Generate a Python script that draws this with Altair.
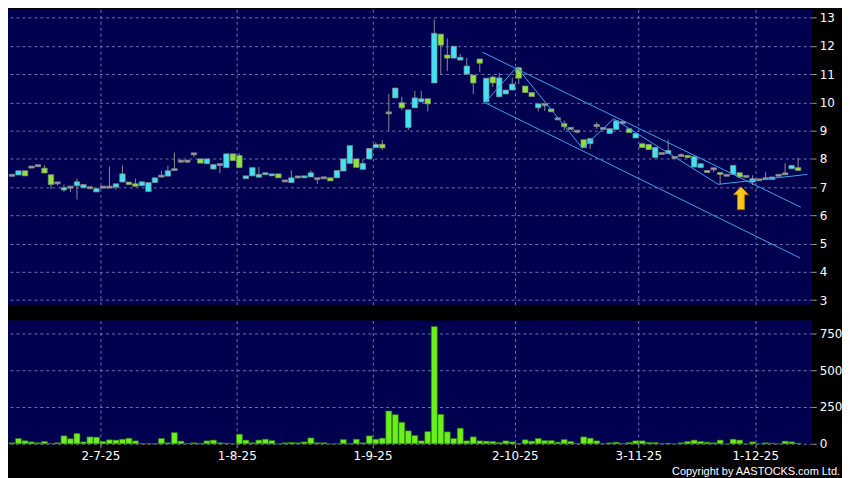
import altair as alt
import pandas as pd

# ---------------- data ----------------
opens = [7.42, 7.43, 7.58, 7.71, 7.76, 7.67, 7.44, 7.15, 6.90, 7.00,
         7.05, 6.98, 6.98, 6.83, 7.00, 7.00, 7.00, 7.18, 7.18, 7.12,
         7.05, 6.84, 7.16, 7.39, 7.39, 7.62, 7.92, 7.92, 8.18, 8.00,
         7.83, 7.64, 7.80, 7.69, 8.18, 8.12, 7.30, 7.40, 7.35, 7.44,
         7.40, 7.47, 7.22, 7.16, 7.36, 7.33, 7.36, 7.30, 7.33, 7.33,
         7.33, 7.57, 7.84, 8.00, 7.63, 8.00, 8.40, 8.52, 9.63, 10.16,
         9.99, 9.11, 9.81, 10.02, 10.13, 10.69, 12.42, 11.68, 11.57, 11.50,
         11.00, 10.97, 11.54, 10.02, 10.90, 10.20, 10.30, 10.44, 11.23, 10.58,
         10.35, 9.81, 9.92, 9.77, 9.42, 9.25, 9.08, 8.98, 8.68, 8.54,
         9.18, 9.08, 8.90, 9.04, 9.29, 9.07, 8.74, 8.54, 8.51, 8.05,
         8.19, 8.19, 8.05, 8.12, 8.12, 7.71, 7.69, 7.59, 7.65, 7.52,
         7.42, 7.45, 7.51, 7.38, 7.18, 7.26, 7.30, 7.27, 7.42, 7.47,
         7.65, 7.69]
highs = [7.44, 7.58, 7.58, 7.72, 7.77, 7.77, 7.44, 7.18, 7.09, 7.02,
         7.30, 7.09, 6.99, 6.95, 7.01, 7.73, 7.12, 7.77, 7.18, 7.30,
         7.19, 7.16, 7.33, 7.59, 7.76, 8.23, 7.97, 7.97, 8.20, 8.00,
         8.00, 7.80, 7.81, 8.18, 8.18, 8.20, 7.40, 7.69, 7.71, 7.51,
         7.47, 7.47, 7.23, 7.59, 7.37, 7.40, 7.59, 7.31, 7.34, 7.33,
         7.59, 8.00, 8.47, 8.00, 7.97, 8.37, 8.59, 8.67, 10.30, 10.51,
         10.20, 9.74, 10.41, 10.41, 10.13, 12.94, 12.42, 12.27, 11.99, 11.72,
         11.58, 10.97, 11.54, 10.86, 10.95, 11.05, 10.44, 10.88, 11.27, 10.58,
         10.35, 9.95, 9.93, 9.77, 9.43, 9.36, 9.09, 8.99, 8.68, 8.72,
         9.30, 9.09, 9.07, 9.35, 9.30, 9.07, 8.90, 8.54, 8.51, 8.41,
         8.20, 8.68, 8.06, 8.20, 8.12, 8.08, 7.83, 7.59, 7.69, 7.52,
         7.43, 7.77, 7.51, 7.39, 7.42, 7.27, 7.53, 7.36, 7.43, 7.85,
         7.77, 8.04]
lows = [7.36, 7.43, 7.40, 7.70, 7.75, 7.50, 6.93, 7.06, 6.83, 6.82,
        6.56, 6.98, 6.97, 6.83, 6.99, 6.99, 6.91, 7.18, 7.09, 7.03,
        7.05, 6.84, 7.16, 7.38, 7.39, 7.61, 7.86, 7.86, 8.06, 7.85,
        7.83, 7.64, 7.50, 7.69, 7.94, 7.69, 7.30, 7.40, 7.35, 7.44,
        7.40, 7.33, 7.21, 7.16, 7.35, 7.33, 7.36, 7.12, 7.32, 7.22,
        7.33, 7.57, 7.84, 7.70, 7.63, 8.00, 8.40, 8.32, 9.00, 10.16,
        9.73, 9.02, 9.81, 10.02, 9.68, 10.69, 11.00, 11.11, 11.57, 11.50,
        11.00, 10.30, 11.09, 10.02, 10.55, 10.20, 10.30, 10.44, 10.65, 10.35,
        10.21, 9.68, 9.70, 9.67, 9.41, 9.01, 9.07, 8.90, 8.40, 8.36,
        9.06, 9.07, 8.90, 9.04, 9.28, 8.93, 8.74, 8.40, 8.33, 8.05,
        8.18, 8.19, 8.04, 8.11, 8.05, 7.71, 7.69, 7.52, 7.53, 7.10,
        7.41, 7.45, 7.36, 7.37, 7.07, 7.25, 7.29, 7.27, 7.41, 7.46,
        7.65, 7.59]
closes = [7.42, 7.58, 7.40, 7.71, 7.76, 7.50, 7.09, 7.15, 6.98, 7.00,
          7.19, 7.09, 6.98, 6.95, 7.00, 7.00, 7.12, 7.47, 7.09, 7.03,
          7.19, 7.16, 7.33, 7.39, 7.58, 7.62, 7.92, 7.92, 8.18, 7.85,
          8.00, 7.80, 7.80, 8.18, 7.94, 7.69, 7.40, 7.69, 7.45, 7.51,
          7.47, 7.33, 7.22, 7.33, 7.36, 7.40, 7.51, 7.30, 7.33, 7.22,
          7.59, 8.00, 8.47, 7.70, 7.84, 8.37, 8.51, 8.39, 9.63, 10.51,
          9.81, 9.74, 10.16, 10.13, 9.95, 12.45, 12.03, 11.57, 11.99, 11.60,
          11.29, 10.69, 11.39, 10.86, 10.69, 10.87, 10.44, 10.65, 10.86, 10.35,
          10.21, 9.95, 9.92, 9.67, 9.42, 9.14, 9.08, 8.98, 8.40, 8.72,
          9.18, 9.08, 9.07, 9.35, 9.29, 8.93, 8.90, 8.40, 8.33, 8.41,
          8.19, 8.30, 8.05, 8.12, 8.05, 8.08, 7.83, 7.52, 7.65, 7.45,
          7.42, 7.77, 7.36, 7.38, 7.30, 7.26, 7.30, 7.36, 7.42, 7.47,
          7.77, 7.59]
volumes = [7, 36, 20, 13, 7, 16, 2, 7, 54, 34, 70, 13, 47, 45, 16, 27, 25, 31, 38, 20,
           2, 2, 2, 36, 7, 76, 18, 2, 7, 4, 20, 25,
           7, 4, 0, 65, 25, 7, 25, 31, 22, 0, 7, 9, 7, 13, 40, 7, 7, 0,
           0, 29, 2, 31, 7, 54, 31, 38, 223, 198, 146, 88, 56, 20,
           83, 797, 200, 81, 36, 106, 20, 47, 20, 18, 16, 9, 20, 13, 2, 27,
           18, 36, 22, 22, 11, 29, 16, 2, 47, 38, 20, 2, 7, 11, 2,
           9, 20, 20, 9, 9, 2, 4, 0, 7, 16, 25, 16, 11, 7, 25, 0, 31, 25,
           0, 13, 0, 7, 4, 0, 18, 13, 4]

tick_pos = [13.6, 34.6, 55.5, 77.4, 96.4, 114.4]
tick_labels = ["2-7-25", "1-8-25", "1-9-25", "2-10-25", "3-11-25", "1-12-25"]
price_ticks = [3, 4, 5, 6, 7, 8, 9, 10, 11, 12, 13]
vol_ticks = [0, 250, 500, 750]

# trend lines (channel, zigzag, base)
line_id = ["upper", "upper", "lower", "lower",
           "zig", "zig", "zig", "zig", "zig", "base", "base"]
line_seq = [0, 1, 0, 1, 0, 1, 2, 3, 4, 0, 1]
line_x = [72.4, 121.4, 72.7, 121.3, 72.8, 77.7, 87.8, 92.6, 108.7, 108.7, 122.4]
line_y = [11.78, 6.29, 10.0, 4.49, 10.0, 11.25, 8.38, 9.42, 7.10, 7.10, 7.45]

arrow_x = [112.2]
arrow_y = [6.61]

# ---------------- frames ----------------
n = len(opens)
df = pd.DataFrame({
    "i": list(range(n)), "o": opens, "h": highs, "l": lows, "c": closes, "v": volumes,
})
df["dir"] = ["up" if c > o else ("down" if c < o else "flat") for o, c in zip(opens, closes)]
df["b0"] = [min(o, c) - (0.035 if o == c else 0) for o, c in zip(opens, closes)]
df["b1"] = [max(o, c) + (0.035 if o == c else 0) for o, c in zip(opens, closes)]

lines = pd.DataFrame({"id": line_id, "seq": line_seq, "x": line_x, "y": line_y})
arrow = pd.DataFrame({"x": arrow_x, "y": arrow_y})

XDOM = [0.15, 122.4]
W = 809
label_expr = " : ".join(
    f"datum.value == {p} ? '{t}'" for p, t in zip(tick_pos, tick_labels)
) + " : ''"

grid_color = "#7a80b4"
font = "DejaVu Sans"

x_scale = alt.Scale(domain=XDOM, nice=False, zero=False)
x_price_axis = alt.Axis(values=tick_pos, labels=False, ticks=False, domain=False,
                        grid=True, gridColor=grid_color, gridDash=[3, 3],
                        gridOpacity=0.9, title=None)
y_price_scale = alt.Scale(domain=[2.838, 13.296], nice=False, zero=False)
y_price_axis = alt.Axis(orient="right", values=price_ticks, grid=True, gridColor=grid_color,
                        gridDash=[3, 3], gridOpacity=0.9, domain=False,
                        tickColor="#9a9a9a", tickSize=4, labelOverlap=False,
                        labelColor="#ffffff", labelFontSize=12, labelFont=font,
                        labelPadding=3, title=None)


def px(field):
    return alt.X(field, scale=x_scale, axis=x_price_axis)


def py(field):
    return alt.Y(field, scale=y_price_scale, axis=y_price_axis)


base = alt.Chart(df)

wicks = base.mark_rule(color="#8c8c8c", strokeWidth=1).encode(
    x=px("i:Q"), y=py("l:Q"), y2="h:Q",
)
bodies = base.mark_bar(size=5.5, stroke="#8a8a8a", strokeWidth=0.7).encode(
    x=px("i:Q"), y=py("b0:Q"), y2="b1:Q",
    color=alt.Color("dir:N", legend=None,
                    scale=alt.Scale(domain=["up", "down", "flat"],
                                    range=["#3ee4f2", "#8ce632", "#9c9c9c"])),
)
trend = alt.Chart(lines).mark_line(color="#3f9ff0", strokeWidth=1, clip=True).encode(
    x=px("x:Q"), y=py("y:Q"), detail="id:N", order="seq:Q"
)
arrow_path = "M0,-1 L0.65,-0.3 L0.3,-0.3 L0.3,1 L-0.3,1 L-0.3,-0.3 L-0.65,-0.3 Z"
arr = alt.Chart(arrow).mark_point(shape=arrow_path, size=530, filled=True,
                                  fill="#f6c81a", stroke="#b87800", strokeWidth=1,
                                  opacity=1).encode(
    x=px("x:Q"), y=py("y:Q")
)

price = alt.layer(wicks, bodies, trend, arr).properties(width=W, height=297)

x_vol = alt.X("i:Q", scale=x_scale,
              axis=alt.Axis(values=tick_pos, labelExpr=label_expr, grid=True,
                            gridColor=grid_color, gridDash=[3, 3], gridOpacity=0.9,
                            domain=False, ticks=True, tickColor="#9a9a9a", tickSize=4,
                            labelColor="#ffffff", labelFontSize=12, labelFont=font,
                            labelOverlap=False, labelPadding=3, title=None))
vol_bars = base.mark_bar(size=6, color="#6cf01c", stroke="#2f7a08", strokeWidth=0.6).encode(
    x=x_vol,
    y=alt.Y("v:Q", scale=alt.Scale(domain=[0, 838], nice=False),
            axis=alt.Axis(orient="right", values=vol_ticks, grid=True, gridColor=grid_color,
                          gridDash=[3, 3], gridOpacity=0.9, domain=False,
                          tickColor="#9a9a9a", tickSize=4, labelOverlap=False,
                          labelColor="#ffffff", labelFontSize=12, labelFont=font,
                          labelPadding=3, title=None)),
)
copy_txt = alt.Chart(pd.DataFrame({"t": ["Copyright by AASTOCKS.com Ltd."]})).mark_text(
    align="right", baseline="middle", color="#ffffff", fontSize=11, font="Liberation Sans"
).encode(x=alt.value(837), y=alt.value(152), text="t:N")

volume = alt.layer(vol_bars, copy_txt).properties(width=W, height=124)

chart = alt.vconcat(price, volume, spacing=14).properties(
    background="#000000", padding=0
).configure_view(fill="#000050", stroke=None).configure_concat(spacing=14)

chart.save("out.html", embed_options={"renderer": "svg", "actions": False})
